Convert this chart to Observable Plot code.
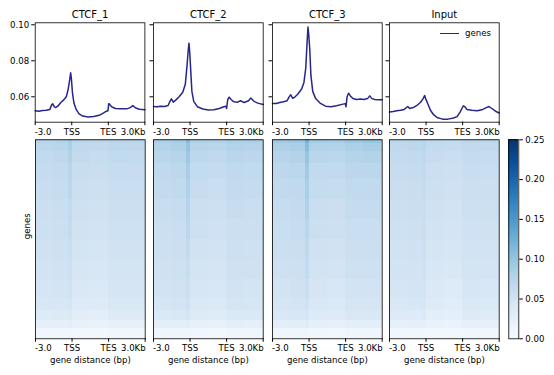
<!DOCTYPE html>
<html><head><meta charset="utf-8">
<script src="https://cdn.jsdelivr.net/npm/d3@7"></script>
<script src="https://cdn.jsdelivr.net/npm/@observablehq/plot@0.6"></script>
<style>
body{margin:0;background:#fff;}
#chart{position:relative;width:554px;height:375px;font-family:"DejaVu Sans",sans-serif;color:#000;overflow:hidden;}
#chart svg{overflow:visible;}
</style></head><body><div id="chart"></div>
<script>
// ---------- data ----------
const samples = ["CTCF_1", "CTCF_2", "CTCF_3", "Input"];
const xTickPos = [0, 1, 2, 3];
const xTickLabels = ["-3.0", "TSS", "TES", "3.0Kb"];
const profileYTicks = [0.06, 0.08, 0.10];
const colorbarTicks = [0, 0.05, 0.10, 0.15, 0.20, 0.25];
const legendLabel = "genes";
const xAxisLabel = "gene distance (bp)";
const yAxisLabel = "genes";

const ctcf1X = [0,0.1,0.2,0.3,0.4,0.45,0.48,0.52,0.56,0.62,0.7,0.78,0.85,0.9,0.94,0.97,0.99,1.02,1.06,1.12,1.2,1.3,1.45,1.6,1.75,1.85,1.95,1.99,2.01,2.03,2.06,2.1,2.2,2.35,2.5,2.6,2.67,2.75,2.85,3.0];
const ctcf1Y = [0.0522,0.0520,0.0524,0.0525,0.0530,0.0555,0.0561,0.0545,0.0540,0.0548,0.0568,0.0583,0.0600,0.0640,0.0690,0.0733,0.0700,0.0620,0.0565,0.0530,0.0505,0.0493,0.0488,0.0490,0.0497,0.0508,0.0520,0.0522,0.0562,0.0560,0.0552,0.0543,0.0535,0.0533,0.0533,0.0540,0.0551,0.0538,0.0531,0.0528];

const ctcf2X = [0,0.1,0.2,0.3,0.4,0.45,0.49,0.54,0.6,0.7,0.8,0.87,0.92,0.95,0.97,0.99,1.02,1.05,1.1,1.2,1.35,1.5,1.65,1.8,1.9,1.98,2.0,2.03,2.07,2.12,2.2,2.3,2.38,2.48,2.6,2.66,2.75,2.85,3.0];
const ctcf2Y = [0.0546,0.0545,0.0548,0.0546,0.0552,0.0575,0.0589,0.0570,0.0580,0.0600,0.0625,0.0670,0.0780,0.0860,0.0898,0.0850,0.0740,0.0630,0.0575,0.0545,0.0532,0.0527,0.0528,0.0535,0.0543,0.0548,0.0535,0.0585,0.0598,0.0585,0.0572,0.0570,0.0578,0.0568,0.0578,0.0593,0.0575,0.0565,0.0557];

const ctcf3X = [0,0.1,0.2,0.3,0.4,0.45,0.5,0.55,0.62,0.7,0.8,0.86,0.91,0.94,0.97,0.99,1.02,1.05,1.1,1.18,1.3,1.45,1.6,1.75,1.9,1.99,2.01,2.04,2.08,2.13,2.2,2.3,2.4,2.5,2.6,2.66,2.72,2.8,2.9,3.0];
const ctcf3Y = [0.0563,0.0563,0.0568,0.0572,0.0578,0.0598,0.0611,0.0592,0.0600,0.0617,0.0645,0.0680,0.0760,0.0880,0.0987,0.0950,0.0860,0.0720,0.0630,0.0590,0.0565,0.0548,0.0545,0.0550,0.0558,0.0562,0.0545,0.0600,0.0620,0.0605,0.0590,0.0585,0.0588,0.0585,0.0590,0.0605,0.0590,0.0585,0.0583,0.0583];

const inputX = [0,0.1,0.2,0.3,0.4,0.5,0.55,0.65,0.75,0.85,0.92,0.96,0.99,1.05,1.12,1.2,1.3,1.45,1.6,1.75,1.85,1.93,1.98,2.02,2.06,2.12,2.25,2.4,2.55,2.65,2.72,2.8,2.9,3.0];
const inputY = [0.0515,0.0518,0.0522,0.0525,0.0530,0.0546,0.0535,0.0540,0.0552,0.0570,0.0590,0.0607,0.0590,0.0560,0.0525,0.0502,0.0485,0.0476,0.0476,0.0482,0.0490,0.0515,0.0535,0.0550,0.0545,0.0530,0.0525,0.0523,0.0530,0.0540,0.0546,0.0535,0.0520,0.0510];

// heatmap: rows = gene bands (sorted, top = highest), columns = region bins
const heatColEdges = [0, 0.5, 0.9, 1.02, 1.5, 2.0, 2.5, 3];
const heatRowEdges = [0, 0.02, 0.06, 0.12, 0.2, 0.3, 0.4, 0.5, 0.6, 0.7, 0.8, 0.86, 0.91, 0.95, 1];

const heatCTCF1 = [
  [0.074,0.076,0.088,0.071,0.069,0.073,0.072],
  [0.069,0.071,0.083,0.066,0.064,0.068,0.067],
  [0.065,0.067,0.078,0.062,0.060,0.064,0.063],
  [0.061,0.063,0.073,0.058,0.056,0.060,0.059],
  [0.058,0.060,0.069,0.055,0.053,0.057,0.057],
  [0.055,0.057,0.065,0.051,0.049,0.054,0.054],
  [0.052,0.054,0.061,0.048,0.046,0.051,0.051],
  [0.049,0.051,0.057,0.045,0.043,0.048,0.048],
  [0.046,0.048,0.053,0.041,0.039,0.045,0.045],
  [0.043,0.045,0.049,0.037,0.035,0.042,0.042],
  [0.039,0.040,0.043,0.033,0.031,0.038,0.038],
  [0.033,0.034,0.036,0.027,0.025,0.032,0.032],
  [0.023,0.024,0.025,0.019,0.018,0.022,0.022],
  [0.010,0.010,0.010,0.008,0.007,0.010,0.010]
];
const heatCTCF2 = [
  [0.084,0.087,0.108,0.080,0.078,0.084,0.082],
  [0.077,0.080,0.099,0.073,0.071,0.077,0.075],
  [0.071,0.074,0.092,0.068,0.066,0.071,0.069],
  [0.066,0.068,0.085,0.063,0.061,0.066,0.064],
  [0.062,0.064,0.079,0.059,0.057,0.062,0.061],
  [0.058,0.060,0.074,0.055,0.053,0.059,0.057],
  [0.055,0.057,0.069,0.052,0.050,0.055,0.054],
  [0.052,0.054,0.064,0.048,0.046,0.052,0.051],
  [0.049,0.051,0.060,0.045,0.043,0.050,0.049],
  [0.046,0.048,0.055,0.041,0.039,0.046,0.045],
  [0.042,0.044,0.049,0.037,0.035,0.042,0.041],
  [0.036,0.038,0.042,0.032,0.030,0.036,0.035],
  [0.025,0.026,0.029,0.022,0.020,0.025,0.024],
  [0.011,0.011,0.011,0.009,0.008,0.011,0.011]
];
const heatCTCF3 = [
  [0.090,0.092,0.118,0.087,0.087,0.092,0.097],
  [0.081,0.083,0.107,0.078,0.077,0.082,0.085],
  [0.074,0.076,0.098,0.071,0.070,0.075,0.077],
  [0.068,0.070,0.090,0.065,0.064,0.069,0.070],
  [0.064,0.066,0.084,0.061,0.060,0.065,0.065],
  [0.060,0.062,0.078,0.057,0.055,0.061,0.061],
  [0.057,0.059,0.072,0.054,0.052,0.057,0.057],
  [0.054,0.056,0.067,0.050,0.048,0.054,0.054],
  [0.051,0.053,0.062,0.046,0.044,0.051,0.051],
  [0.047,0.049,0.056,0.042,0.040,0.047,0.047],
  [0.043,0.045,0.050,0.038,0.036,0.043,0.043],
  [0.037,0.039,0.043,0.033,0.031,0.037,0.037],
  [0.026,0.027,0.030,0.023,0.021,0.026,0.026],
  [0.011,0.011,0.011,0.009,0.008,0.011,0.011]
];
const heatInput = [
  [0.070,0.072,0.075,0.067,0.065,0.069,0.068],
  [0.066,0.068,0.071,0.063,0.061,0.065,0.064],
  [0.062,0.064,0.067,0.059,0.057,0.061,0.060],
  [0.059,0.061,0.064,0.055,0.053,0.058,0.057],
  [0.056,0.058,0.061,0.052,0.050,0.055,0.054],
  [0.054,0.056,0.058,0.049,0.047,0.053,0.052],
  [0.051,0.053,0.056,0.046,0.044,0.050,0.049],
  [0.048,0.050,0.052,0.043,0.041,0.047,0.046],
  [0.046,0.047,0.050,0.039,0.037,0.045,0.044],
  [0.042,0.044,0.046,0.035,0.033,0.041,0.040],
  [0.038,0.039,0.041,0.031,0.029,0.037,0.036],
  [0.032,0.033,0.035,0.026,0.024,0.031,0.030],
  [0.022,0.023,0.024,0.018,0.016,0.021,0.021],
  [0.010,0.010,0.010,0.008,0.007,0.009,0.009]
];

// ---------- layout ----------
const profX = [ctcf1X, ctcf2X, ctcf3X, inputX];
const profY = [ctcf1Y, ctcf2Y, ctcf3Y, inputY];
const heats = [heatCTCF1, heatCTCF2, heatCTCF3, heatInput];
const panelLeft = [34.7, 153.2, 271.6, 389.4];
const panelW = 109.7;
const lineColor = "#26268c";
const root = document.getElementById("chart");
const baseStyle = {fontFamily: "'DejaVu Sans', sans-serif", fontSize: "8.6px", color: "#000", background: "transparent", overflow: "visible"};
function place(el, left, top) {
  el.style.position = "absolute";
  el.style.left = left + "px";
  el.style.top = top + "px";
  root.appendChild(el);
}
function xLabelMarks(dy) {
  return [
    Plot.text([0], {x: d => xTickPos[d], text: d => xTickLabels[d], frameAnchor: "bottom", lineAnchor: "top", textAnchor: "start", dy, dx: -0.5}),
    Plot.text([1, 2], {x: d => xTickPos[d], text: d => xTickLabels[d], frameAnchor: "bottom", lineAnchor: "top", textAnchor: "middle", dy}),
    Plot.text([3], {x: d => xTickPos[d], text: d => xTickLabels[d], frameAnchor: "bottom", lineAnchor: "top", textAnchor: "end", dy, dx: 0.5})
  ];
}

samples.forEach((name, i) => {
  // profile
  const ml = i === 0 ? 34.7 : 6;
  const rows = profX[i].map((x, k) => ({x, y: profY[i][k]}));
  const p = Plot.plot({
    width: ml + panelW + 8, height: 140,
    marginLeft: ml, marginRight: 8, marginTop: 22.3, marginBottom: 18.3,
    style: baseStyle,
    x: {domain: [0, 3], label: null},
    y: {domain: [0.0459, 0.1011], label: null},
    marks: [
      Plot.line(rows, {x: "x", y: "y", stroke: lineColor, strokeWidth: 1.5}),
      Plot.frame({stroke: "#000", strokeWidth: 0.8}),
      Plot.axisY({ticks: profileYTicks, tickSize: 3.5, tickPadding: 2.5, label: null,
                  tickFormat: i === 0 ? d3.format(".2f") : () => ""}),
      Plot.axisX({ticks: xTickPos, tickSize: 3.5, label: null, tickFormat: () => ""}),
      ...xLabelMarks(6.5),
      Plot.text([name], {text: d => d, frameAnchor: "top", lineAnchor: "bottom", dy: -5, fontSize: 10})
    ]
  });
  place(p, panelLeft[i] - ml, 0);

  // heatmap
  const cells = [];
  heats[i].forEach((row, r) => row.forEach((v, c) => cells.push({
    x1: heatColEdges[c], x2: heatColEdges[c + 1], y1: heatRowEdges[r], y2: heatRowEdges[r + 1], v
  })));
  const extra = i === 0 ? [Plot.text([yAxisLabel], {text: d => d, frameAnchor: "left", rotate: -90, lineAnchor: "middle", dx: -8})] : [];
  const h = Plot.plot({
    width: 35 + panelW + 10, height: 375,
    marginLeft: 35, marginRight: 10, marginTop: 139.3, marginBottom: 36.7,
    style: baseStyle,
    x: {domain: [0, 3], label: null},
    y: {domain: [0, 1], reverse: true, label: null, axis: null},
    color: {type: "linear", scheme: "blues", domain: [0, 0.25]},
    marks: [
      Plot.rect(cells, {x1: "x1", x2: "x2", y1: "y1", y2: "y2", fill: "v", shapeRendering: "crispEdges"}),
      Plot.frame({stroke: "#000", strokeWidth: 0.8}),
      Plot.axisX({ticks: xTickPos, tickSize: 3.5, label: null, tickFormat: () => ""}),
      ...xLabelMarks(6),
      Plot.text([xAxisLabel], {text: d => d, frameAnchor: "bottom", lineAnchor: "top", dy: 18.5}),
      ...extra
    ]
  });
  place(h, panelLeft[i] - 35, 0);
});

// colorbar
const cbSteps = d3.range(0, 0.25, 0.0025).map(v => ({v}));
const cb = Plot.plot({
  width: 60, height: 375,
  marginLeft: 10.3, marginRight: 39.7, marginTop: 139.3, marginBottom: 36.7,
  style: baseStyle,
  x: {domain: [0, 1], axis: null},
  y: {domain: [0, 0.25], label: null},
  color: {type: "linear", scheme: "blues", domain: [0, 0.25]},
  marks: [
    Plot.rect(cbSteps, {x1: 0, x2: 1, y1: "v", y2: d => d.v + 0.0025, fill: "v", shapeRendering: "crispEdges"}),
    Plot.frame({stroke: "#000", strokeWidth: 0.8}),
    Plot.axisY({ticks: colorbarTicks, anchor: "right", tickSize: 3.5, tickPadding: 3, tickFormat: d3.format(".2f"), label: null})
  ]
});
place(cb, 498, 0);

// legend (inside Input profile)
const legLine = document.createElement("div");
legLine.style.cssText = `width:19px;height:0;border-top:1.5px solid ${lineColor};`;
place(legLine, 440, 33);
const legText = document.createElement("div");
legText.textContent = legendLabel;
legText.style.cssText = "font:8.6px 'DejaVu Sans',sans-serif;line-height:9px;";
place(legText, 465, 29.3);
</script>
</body></html>
